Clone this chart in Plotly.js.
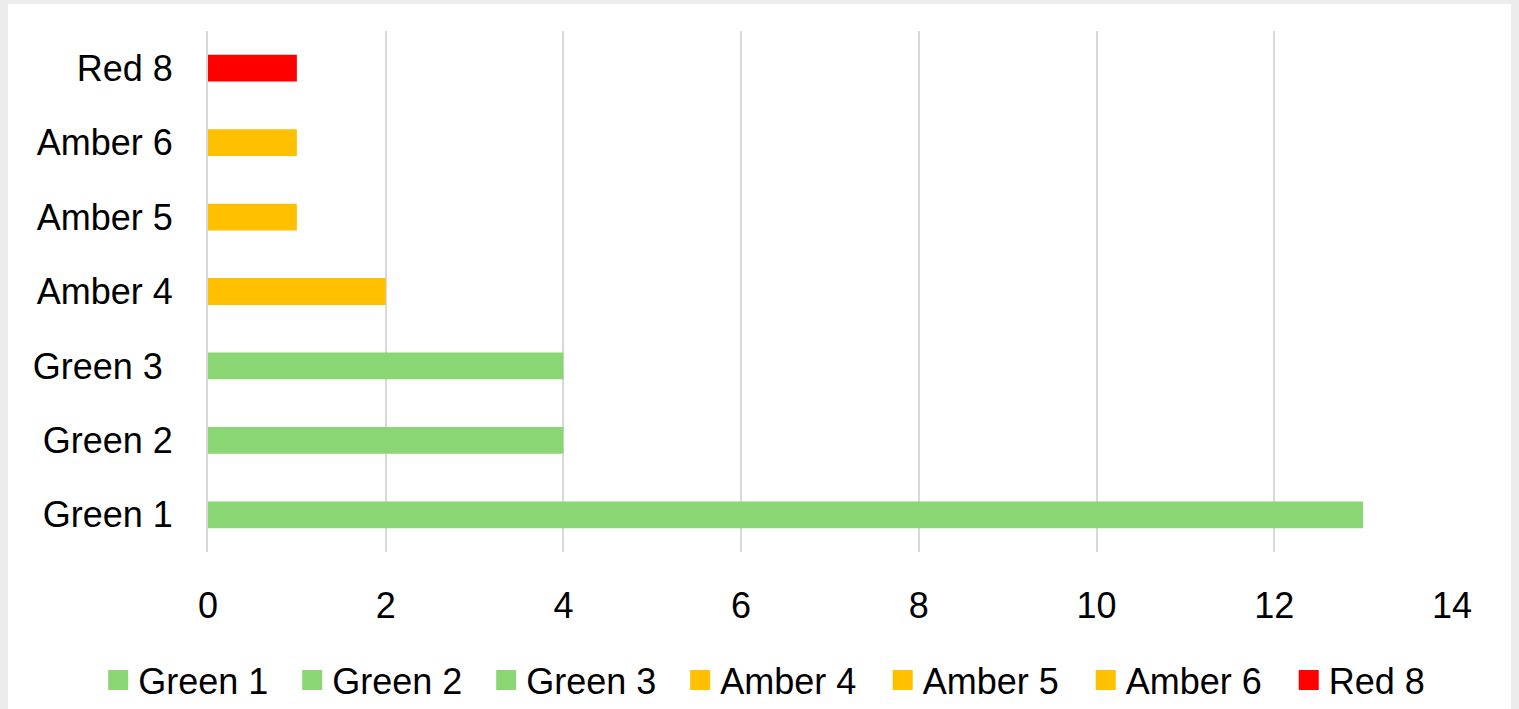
<!DOCTYPE html>
<html>
<head>
<meta charset="utf-8">
<script src="https://cdn.plot.ly/plotly-3.0.1.min.js"></script>
<style>
  html, body { margin: 0; padding: 0; background: #ececec; width: 1519px; height: 709px; overflow: hidden; }
  #chart { position: absolute; left: 8px; top: 4px; width: 1503px; height: 705px; background: #ffffff; }
</style>
</head>
<body>
<div id="chart"></div>
<script>
const categories = ["Green 1", "Green 2", "Green 3 ", "Amber 4", "Amber 5", "Amber 6", "Red 8"];
const seriesNames = ["Green 1", "Green 2", "Green 3", "Amber 4", "Amber 5", "Amber 6", "Red 8"];
const values = [13, 4, 4, 2, 1, 1, 1];
const colors = ["#8ad675", "#8ad675", "#8ad675", "#ffc000", "#ffc000", "#ffc000", "#ff0000"];
const xTicks = [0, 2, 4, 6, 8, 10, 12, 14];

const FONT = "Liberation Sans, Arial, sans-serif";
const FS = 36;

const traces = [];
seriesNames.forEach((name, i) => {
  traces.push({
    type: "bar",
    orientation: "h",
    name: name,
    y: [categories[i]],
    x: [values[i]],
    marker: { color: colors[i] },
    showlegend: false,
    hoverinfo: "x+y"
  });
});
seriesNames.forEach((name, i) => {
  traces.push({
    type: "scatter",
    mode: "markers",
    name: name,
    x: [null],
    y: [null],
    legend: i < 4 ? "legend" : "legend2",
    marker: { symbol: "square", size: 16, color: colors[i], line: { color: colors[i], width: 4 } },
    showlegend: true,
    hoverinfo: "skip"
  });
});

const legendBase = {
  orientation: "h",
  xref: "container",
  xanchor: "left",
  y: 0.041,
  yref: "container",
  yanchor: "middle",
  font: { family: FONT, size: FS, color: "#000000" },
  itemwidth: 30,
  entrywidthmode: "pixels",
  traceorder: "normal",
  bgcolor: "rgba(0,0,0,0)"
};

const layout = {
  width: 1503,
  height: 705,
  paper_bgcolor: "#ffffff",
  plot_bgcolor: "#ffffff",
  barmode: "overlay",
  bargap: 0.64,
  margin: { l: 200, r: 59, t: 27, b: 157 },
  font: { family: FONT, size: FS, color: "#000000" },
  xaxis: {
    range: [0, 14],
    tickvals: xTicks,
    ticktext: xTicks.map(String),
    showgrid: true,
    gridcolor: "#d9d9d9",
    gridwidth: 2,
    zeroline: false,
    showline: false,
    ticks: "",
    ticklabelstandoff: 29,
    tickfont: { family: FONT, size: FS, color: "#000000" },
    fixedrange: true
  },
  yaxis: {
    type: "category",
    categoryorder: "array",
    categoryarray: categories,
    showgrid: false,
    zeroline: false,
    showline: true,
    linecolor: "#d9d9d9",
    linewidth: 2,
    ticks: "",
    ticklabelstandoff: 26,
    tickfont: { family: FONT, size: FS, color: "#000000" },
    fixedrange: true
  },
  showlegend: true,
  legend: Object.assign({}, legendBase, { x: 0.06, entrywidth: 149 }),
  legend2: Object.assign({}, legendBase, { x: 0.582, entrywidth: 158 })
};

Plotly.newPlot("chart", traces, layout, { displayModeBar: false, staticPlot: true });
</script>
</body>
</html>
